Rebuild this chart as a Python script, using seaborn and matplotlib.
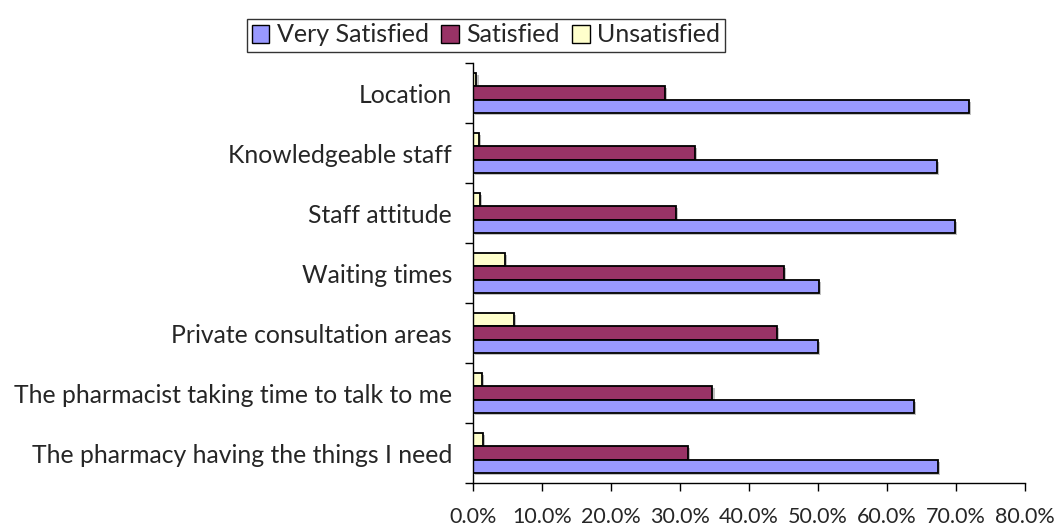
import pandas as pd
import matplotlib
matplotlib.use('Agg')
import matplotlib.pyplot as plt
import matplotlib.patheffects as pe
from matplotlib.patches import Patch
from matplotlib.ticker import PercentFormatter
import seaborn as sns

# Data (percent of respondents)
aspects = ['Location', 'Knowledgeable staff', 'Staff attitude', 'Waiting times',
           'Private consultation areas', 'The pharmacist taking time to talk to me',
           'The pharmacy having the things I need']
very_satisfied = [71.9, 67.2, 69.8, 50.2, 50.0, 63.9, 67.4]
satisfied = [27.8, 32.2, 29.4, 45.0, 44.0, 34.7, 31.2]
unsatisfied = [0.5, 0.8, 1.0, 4.6, 5.9, 1.3, 1.5]

levels = ['Very Satisfied', 'Satisfied', 'Unsatisfied']
colors = {'Very Satisfied': '#9999FF', 'Satisfied': '#993366', 'Unsatisfied': '#FFFFCC'}

df = pd.DataFrame({'aspect': aspects * 3,
                   'level': ['Very Satisfied'] * 7 + ['Satisfied'] * 7 + ['Unsatisfied'] * 7,
                   'pct': very_satisfied + satisfied + unsatisfied})

sns.set_style('white')
plt.rcParams['font.family'] = ['Lato', 'DejaVu Sans']

fig = plt.figure(figsize=(10.59, 5.26), dpi=100)
ax = fig.add_axes([473 / 1059, 1 - 483 / 526, (1025 - 473) / 1059, 420 / 526])

sns.barplot(data=df, y='aspect', x='pct', hue='level', order=aspects,
            hue_order=['Unsatisfied', 'Satisfied', 'Very Satisfied'],
            palette=colors, orient='h', width=0.67, edgecolor='black',
            linewidth=1.3, saturation=1, legend=False, ax=ax)

for bar in ax.patches:
    bar.set_path_effects([pe.SimplePatchShadow(offset=(1.5, -1.5), shadow_rgbFace='#999999', alpha=0.6),
                          pe.Normal()])

ax.set_xlim(0, 80)
ax.set_ylim(6.5, -0.5)
ax.set_xticks(range(0, 81, 10))
ax.xaxis.set_major_formatter(PercentFormatter(decimals=1))
ax.tick_params(axis='x', direction='out', length=6, width=1, color='black',
               labelsize=15.5, pad=11, bottom=True)

# labels at category centres, tick marks at category boundaries
ax.set_yticks(range(len(aspects)))
ax.set_yticklabels(aspects)
ax.set_yticks([i - 0.5 for i in range(len(aspects) + 1)], minor=True)
ax.tick_params(axis='y', which='major', length=0, labelsize=17.8, pad=15)
ax.tick_params(axis='y', which='minor', direction='out', length=6, width=1, color='black', left=True)

ax.set_xlabel('')
ax.set_ylabel('')
for side in ['top', 'right']:
    ax.spines[side].set_visible(False)
for side in ['left', 'bottom']:
    ax.spines[side].set_color('black')
    ax.spines[side].set_linewidth(1)

handles = [Patch(facecolor=colors[l], edgecolor='black', linewidth=1) for l in levels]
leg = fig.legend(handles, levels, loc='center', bbox_to_anchor=(486 / 1059, 1 - 35 / 526),
                 ncol=3, frameon=True, fancybox=False, edgecolor='black', fontsize=18,
                 handlelength=0.7, handleheight=0.7, handletextpad=0.3, columnspacing=0.5,
                 borderpad=0.2, borderaxespad=0)
leg.get_frame().set_linewidth(1)

fig.savefig('out.png', dpi=100, facecolor='white')
